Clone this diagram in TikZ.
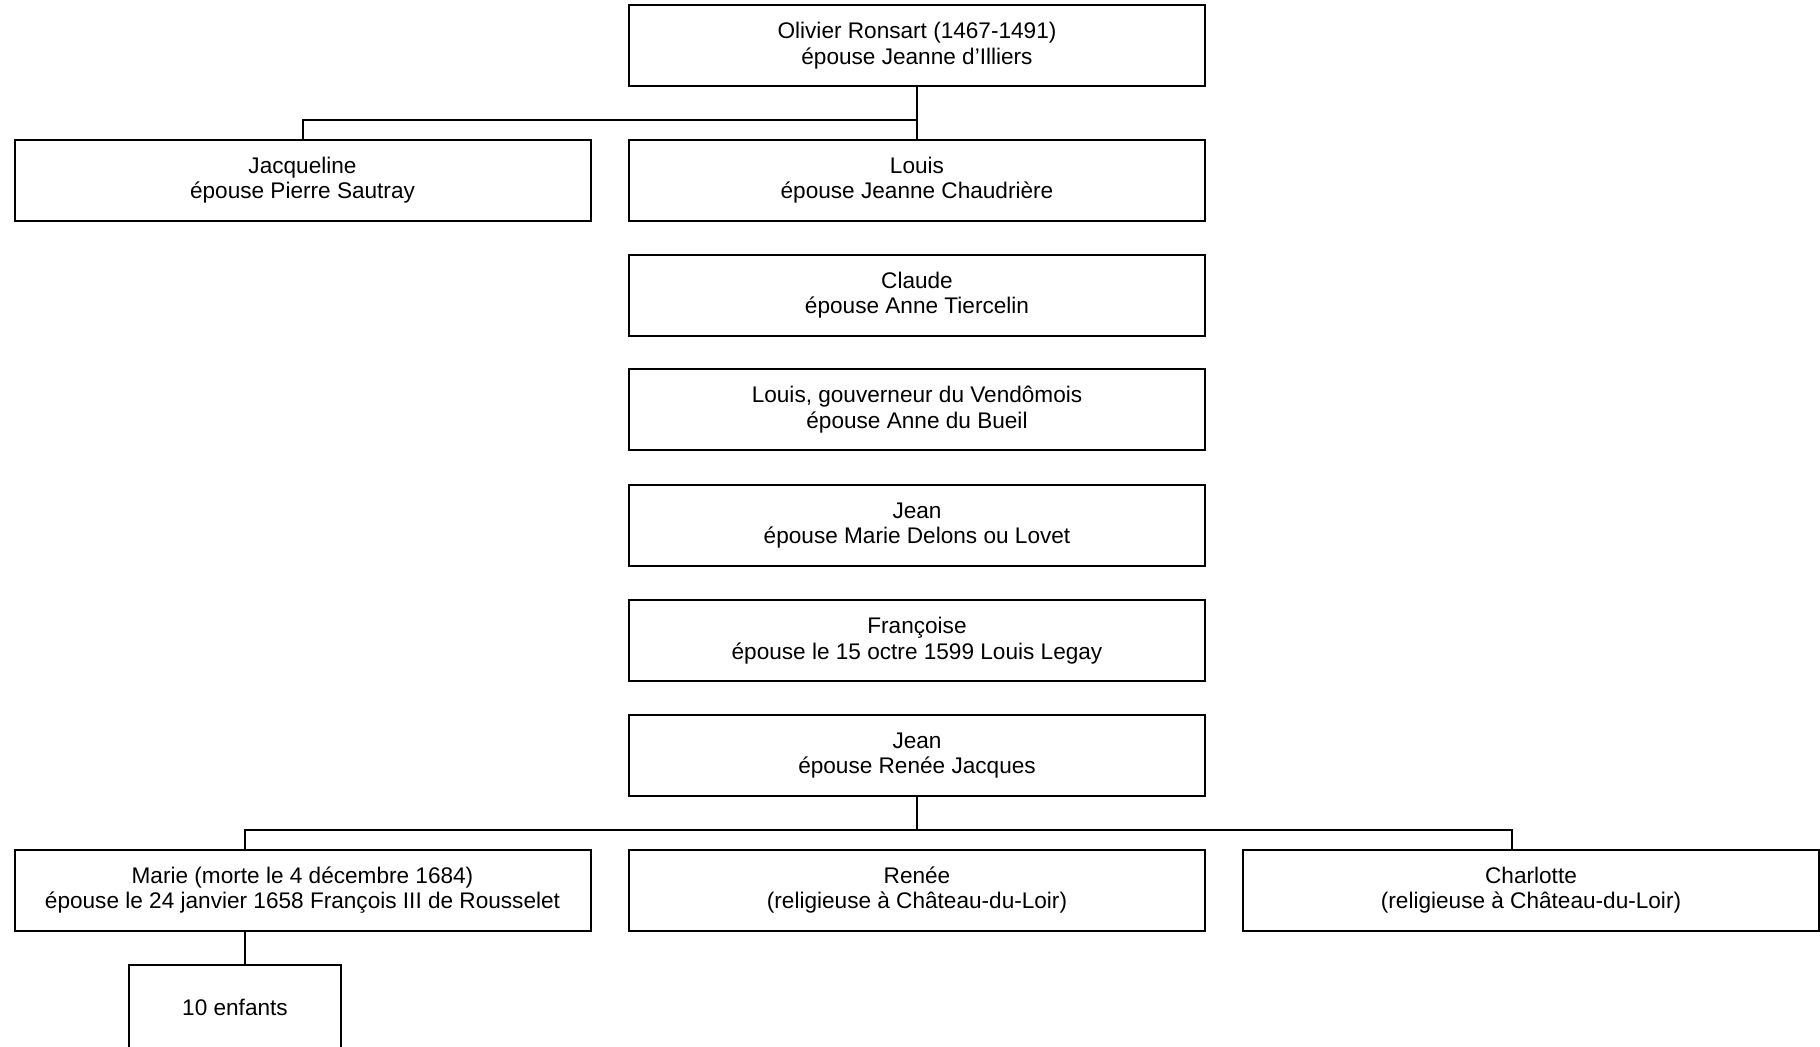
\documentclass[tikz,border=0pt]{standalone}
\usepackage{fontspec}
\setmainfont{Liberation Sans}
\begin{document}
\begin{tikzpicture}[x=0.5pt,y=-0.5pt,
    person/.style={draw, line width=1pt, minimum width=288pt, minimum height=40.5pt,
      inner sep=0pt, align=center, font=\fontsize{11.3}{12.8}\selectfont},
    link/.style={line width=1pt}]
		\useasboundingbox (0,0) rectangle (1820,1046);

		% Olivier and his children
		\node[person] (olivier) at (917,45.5) {Olivier Ronsart (1467-1491)\\épouse Jeanne d’Illiers};
		\node[person] (jacqueline) at (302.5,180) {Jacqueline\\épouse Pierre Sautray};
		\node[person] (louis) at (917,180) {Louis\\épouse Jeanne Chaudrière};

		% Line of descent
		\node[person] (claude) at (917,295) {Claude\\épouse Anne Tiercelin};
		\node[person] (gouverneur) at (917,409.5) {Louis, gouverneur du Vendômois\\épouse Anne du Bueil};
		\node[person] (jean) at (917,525.5) {Jean\\épouse Marie Delons ou Lovet};
		\node[person] (francoise) at (917,640.5) {Françoise\\épouse le 15 octre 1599 Louis Legay};
		\node[person] (jeanb) at (917,755.5) {Jean\\épouse Renée Jacques};

		% Last generation
		\node[person] (marie) at (302.5,890) {Marie (morte le 4 décembre 1684)\\épouse le 24 janvier 1658 François III de Rousselet};
		\node[person] (renee) at (917,890) {Renée\\(religieuse à Château-du-Loir)};
		\node[person] (charlotte) at (1531,890) {Charlotte\\(religieuse à Château-du-Loir)};
		\node[person, minimum width=106pt, minimum height=42.5pt] (enfants) at (235,1007) {10 enfants};

		% Connectors
		\coordinate (forkj) at (302.5,119.5);
		\coordinate (forkm) at (245,830);
		\coordinate (forkc) at (1512,830);
		\draw[link] (olivier.south) -- (louis.north);
		\draw[link] (jacqueline.north) -- (forkj) -- (forkj -| louis.north);
		\draw[link] (jeanb.south) -- (jeanb.south |- forkm);
		\draw[link] (marie.north -| forkm) -- (forkm) -- (forkc) -- (forkc |- charlotte.north);
		\draw[link] (marie.south -| forkm) -- (enfants.north -| forkm);
	\end{tikzpicture}
\end{document}
